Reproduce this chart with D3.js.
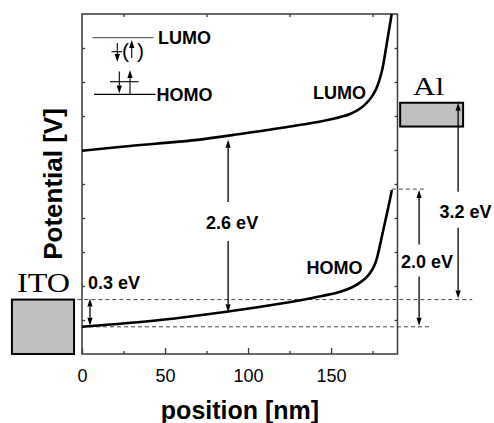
<!DOCTYPE html>
<html>
<head>
<meta charset="utf-8">
<script src="https://cdn.jsdelivr.net/npm/d3@7/dist/d3.min.js"></script>
<style>
  html, body { margin: 0; padding: 0; background: #fff; }
  svg { display: block; }
</style>
</head>
<body>
<svg id="chart" width="494" height="423"></svg>
<script>
// ---- band-edge potential profile across the organic layer (position in nm) ----
const lumoPos = [0, 28.9, 68, 95.2, 125.3, 149.4, 161.4, 168.6, 173.5, 177.1, 180.5, 183.5, 186.5];
const lumoPot = [5.98, 6.12, 6.29, 6.47, 6.69, 6.90, 7.06, 7.26, 7.50, 7.79, 8.30, 9.12, 10.0];

const homoPos = [0, 47, 88, 120, 140, 155, 163, 168, 172, 175, 177, 179, 181, 183.5, 185.5, 186.6];
const homoPot = [0.80, 1.0, 1.25, 1.485, 1.66, 1.82, 1.97, 2.12, 2.29, 2.5, 2.72, 3.1, 3.55, 4.1, 4.55, 4.82];

// electrode levels (top / bottom of each contact box)
const electrodeNames = ["ITO", "Al"];
const electrodeTop = [1.6, 7.39];
const electrodeBottom = [0, 6.69];

// reference levels drawn as dashed lines
const levelNames = ["ITO", "HOMO start", "HOMO end"];
const levelPot = [1.6, 0.8, 4.85];

// energy gaps: label, x position (nm), from / to potential
const gapLabels = ["0.3 eV", "2.6 eV", "2.0 eV", "3.2 eV"];
const gapPos = [4.8, 88, 203, 226.5];
const gapFrom = [1.6, 6.33, 4.85, 7.42];
const gapTo = [0.8, 1.2, 0.8, 1.6];

// axis ticks
const xTickLabels = [0, 50, 100, 150];
const xMinorTicks = [25, 75, 125, 175];
const yTicks = [1, 2, 3, 4, 5, 6, 7, 8, 9];

// ---- layout ----
const svg = d3.select("#chart");
const plotLeft = 82, plotRight = 397.5, plotTop = 14, plotBottom = 354;
const x = d3.scaleLinear().domain([0, 190]).range([plotLeft, plotRight]);
const y = d3.scaleLinear().domain([0, 10]).range([plotBottom, plotTop]);

const sans = "'Liberation Sans', Arial, Helvetica, sans-serif";
const serif = "'Liberation Serif', 'Times New Roman', serif";
const axisColor = "#3a3a3a";

// dashed reference levels
const dashSpans = [[-7, 235], [0, 210], [186.6, 206]];
svg.append("g").selectAll("line").data(levelPot).join("line")
  .attr("x1", (d, i) => x(dashSpans[i][0]))
  .attr("x2", (d, i) => x(dashSpans[i][1]))
  .attr("y1", d => y(d)).attr("y2", d => y(d))
  .attr("stroke", "#444").attr("stroke-width", 1)
  .attr("stroke-dasharray", "4,3");

// electrode boxes
const boxSpans = [[-42.2, -4.8], [191.6, 229.5]];
svg.append("g").selectAll("rect").data(electrodeNames).join("rect")
  .attr("x", (d, i) => x(boxSpans[i][0]))
  .attr("width", (d, i) => x(boxSpans[i][1]) - x(boxSpans[i][0]))
  .attr("y", (d, i) => y(electrodeTop[i]))
  .attr("height", (d, i) => y(electrodeBottom[i]) - y(electrodeTop[i]))
  .attr("fill", "#c0c0c0").attr("stroke", "#000").attr("stroke-width", 2);

svg.append("text").text("ITO")
  .attr("x", 17).attr("y", 291.5)
  .attr("textLength", 53).attr("lengthAdjust", "spacingAndGlyphs")
  .attr("font-family", serif).attr("font-size", 28);
svg.append("text").text("Al")
  .attr("x", 413).attr("y", 95)
  .attr("textLength", 31).attr("lengthAdjust", "spacingAndGlyphs")
  .attr("font-family", serif).attr("font-size", 26);

// frame
svg.append("rect")
  .attr("x", plotLeft).attr("y", plotTop)
  .attr("width", plotRight - plotLeft).attr("height", plotBottom - plotTop)
  .attr("fill", "none").attr("stroke", axisColor).attr("stroke-width", 1.5);

function styleAxis(g) {
  g.select(".domain").remove();
  g.selectAll(".tick line").attr("stroke", axisColor).attr("stroke-width", 1.3);
}

svg.append("g").attr("transform", `translate(0,${plotBottom})`)
  .call(d3.axisBottom(x).tickValues(xTickLabels).tickSizeInner(-6).tickSizeOuter(0).tickPadding(15))
  .call(styleAxis)
  .call(g => g.selectAll("text").attr("font-family", sans).attr("font-size", 18).attr("fill", "#000"));
svg.append("g").attr("transform", `translate(0,${plotBottom})`)
  .call(d3.axisBottom(x).tickValues(xMinorTicks).tickSizeInner(-3).tickSizeOuter(0).tickFormat(""))
  .call(styleAxis);
svg.append("g").attr("transform", `translate(0,${plotTop})`)
  .call(d3.axisTop(x).tickValues(xMinorTicks).tickSizeInner(-3).tickSizeOuter(0).tickFormat(""))
  .call(styleAxis);
svg.append("g").attr("transform", `translate(${plotLeft},0)`)
  .call(d3.axisLeft(y).tickValues(yTicks).tickSizeInner(-3).tickSizeOuter(0).tickFormat(""))
  .call(styleAxis);
svg.append("g").attr("transform", `translate(${plotRight},0)`)
  .call(d3.axisRight(y).tickValues(yTicks).tickSizeInner(-3).tickSizeOuter(0).tickFormat(""))
  .call(styleAxis);

// axis titles
svg.append("text").text("position [nm]")
  .attr("x", 240).attr("y", 419)
  .attr("text-anchor", "middle")
  .attr("font-family", sans).attr("font-weight", "bold").attr("font-size", 25);
svg.append("text").text("Potential [V]")
  .attr("transform", "translate(62,184) rotate(-90)")
  .attr("text-anchor", "middle")
  .attr("font-family", sans).attr("font-weight", "bold").attr("font-size", 26);

// band curves
const line = d3.line().x(d => x(d[0])).y(d => y(d[1])).curve(d3.curveCatmullRom.alpha(0.5));
const plot = svg.append("g");
plot.append("path").datum(d3.zip(lumoPos, lumoPot)).attr("d", line)
  .attr("fill", "none").attr("stroke", "#000").attr("stroke-width", 2.6);
plot.append("path").datum(d3.zip(homoPos, homoPot)).attr("d", line)
  .attr("fill", "none").attr("stroke", "#000").attr("stroke-width", 2.6);

// arrow helper: shaft from (x1,y1) to (x2,y2), head at the second point
function arrow(g, x1, y1, x2, y2, w = 1.3) {
  const a = Math.atan2(y2 - y1, x2 - x1), L = 8, H = 2.6;
  const bx = x2 - L * Math.cos(a), by = y2 - L * Math.sin(a);
  g.append("line").attr("x1", x1).attr("y1", y1).attr("x2", bx).attr("y2", by)
    .attr("stroke", "#000").attr("stroke-width", w);
  g.append("path")
    .attr("d", `M${x2},${y2}L${bx - H * Math.sin(a)},${by + H * Math.cos(a)}L${bx + H * Math.sin(a)},${by - H * Math.cos(a)}Z`)
    .attr("fill", "#000");
}

// gap annotations: label offset and half-gap left open around each label
const gapLabelShift = [[22, -3], [4, -3], [8, 4], [7.5, 10.5]];
const gapOpen = [0, 21, 17.5, 19.5];
const ann = svg.append("g");
gapLabels.forEach((lab, i) => {
  const gx = x(gapPos[i]), y0 = y(gapFrom[i]), y1 = y(gapTo[i]);
  const cx = gx + gapLabelShift[i][0];
  const cy = (y0 + y1) / 2 + gapLabelShift[i][1];
  if (gapOpen[i] === 0) {
    const m = (y0 + y1) / 2;
    arrow(ann, gx, m, gx, y0 - 1);
    arrow(ann, gx, m, gx, y1 - 1);
    ann.append("text").text(lab)
      .attr("x", 88).attr("y", 289)
      .attr("font-family", sans).attr("font-weight", "bold").attr("font-size", 18);
  } else {
    arrow(ann, gx, cy - gapOpen[i], gx, y0 + 1);
    arrow(ann, gx, cy + gapOpen[i] - 3, gx, y1 - 1);
    ann.append("text").text(lab)
      .attr("x", cx).attr("y", cy + 6.5)
      .attr("text-anchor", "middle")
      .attr("font-family", sans).attr("font-weight", "bold").attr("font-size", 18);
  }
});

// curve labels
const bold = (t, px, py) => svg.append("text").text(t).attr("x", px).attr("y", py)
  .attr("font-family", sans).attr("font-weight", "bold").attr("font-size", 18);
bold("LUMO", 313, 99);
bold("HOMO", 306.5, 274);

// orbital occupation sketch
const key = svg.append("g");
key.append("line").attr("x1", 92.5).attr("x2", 153.5).attr("y1", 37.7).attr("y2", 37.7)
  .attr("stroke", "#666").attr("stroke-width", 1.3);
bold("LUMO", 158, 43.5);
key.append("line").attr("x1", 111.5).attr("x2", 122).attr("y1", 51.7).attr("y2", 51.7)
  .attr("stroke", "#000").attr("stroke-width", 1.1);
arrow(key, 117.3, 43, 117.3, 62, 1.1);
arrow(key, 131.7, 58, 131.7, 40, 1.1);
key.append("text").text("(").attr("x", 122).attr("y", 57.5)
  .attr("font-family", sans).attr("font-size", 21);
key.append("text").text(")").attr("x", 137).attr("y", 57.5)
  .attr("font-family", sans).attr("font-size", 21);

key.append("line").attr("x1", 110).attr("x2", 138.5).attr("y1", 81.7).attr("y2", 81.7)
  .attr("stroke", "#000").attr("stroke-width", 1.1);
arrow(key, 119.3, 71.5, 119.3, 93.5, 1.1);
arrow(key, 130, 94.3, 130, 70, 1.1);
key.append("line").attr("x1", 94).attr("x2", 155.5).attr("y1", 94.3).attr("y2", 94.3)
  .attr("stroke", "#000").attr("stroke-width", 1.3);
bold("HOMO", 156.5, 100.7);
</script>
</body>
</html>
